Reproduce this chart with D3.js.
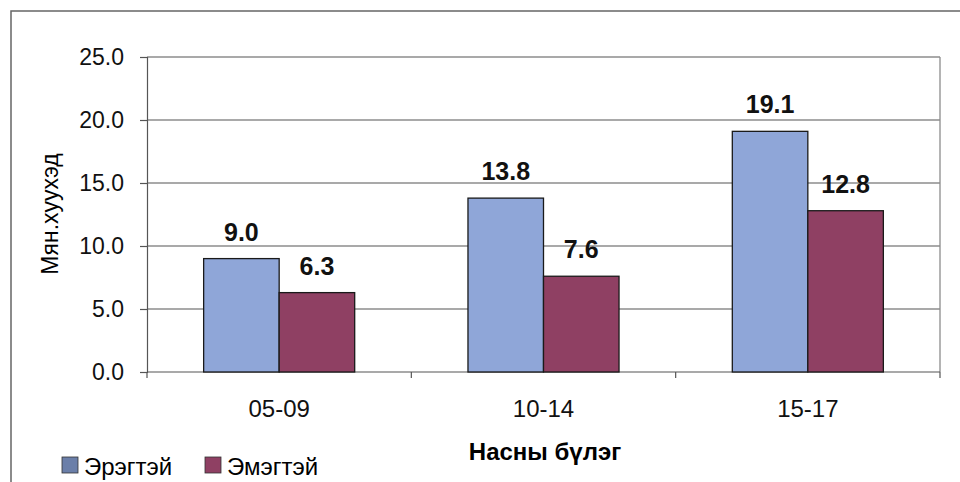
<!doctype html>
<html lang="mn">
<head>
  <meta charset="utf-8">
  <title>Насны бүлэг</title>
  <style>
    body { margin: 0; background: #fff; }
    svg { display: block; font-family: Arial, "Liberation Sans", sans-serif; }
    .grid line { stroke: #8c8c8c; stroke-width: 1.3; }
    .axis path, .axis line { stroke: #555; stroke-width: 1.2; }
    .axis text { font-size: 23px; fill: #111; }
    .xax text { font-size: 24px; }
    .val { font-size: 25px; font-weight: bold; fill: #111; }
    .bar { stroke: #1a1a1a; stroke-width: 1.3; }
  </style>
</head>
<body>
<script src="https://cdn.jsdelivr.net/npm/d3@7"></script>
<script>
(function() {

var categories = ["05-09", "10-14", "15-17"];
var seriesNames = ["Эрэгтэй", "Эмэгтэй"];
var boys = [9.0, 13.8, 19.1];
var girls = [6.3, 7.6, 12.8];
var yTicks = [0, 5, 10, 15, 20, 25];
var colors = ["#8fa6d8", "#8f4063"];

var width = 960, height = 482;
var left = 147, right = 940, top = 57, bottom = 372;

var svg = d3.select("body").append("svg")
    .attr("width", width)
    .attr("height", height);

// outer chart frame (cut by window on right and bottom)
svg.append("path")
    .attr("d", "M11,490 L11,11 L970,11")
    .attr("fill", "none")
    .attr("stroke", "#666")
    .attr("stroke-width", 1.5);

var y = d3.scaleLinear().domain([0, 25]).range([bottom, top]);
var x0 = d3.scaleBand().domain(categories).range([left, right]).paddingInner(0).paddingOuter(0);
// Excel gap width 150% -> bars take 2 of 3.5 units
var inner = d3.scaleBand().domain(seriesNames)
    .range([x0.bandwidth() * 0.75 / 3.5, x0.bandwidth() * 2.75 / 3.5]);

// gridlines
svg.append("g").attr("class", "grid")
  .selectAll("line").data(yTicks.slice(1)).enter().append("line")
    .attr("x1", left).attr("x2", right)
    .attr("y1", function(d) { return y(d); })
    .attr("y2", function(d) { return y(d); });

// right frame of plot area
svg.append("line")
    .attr("x1", right).attr("x2", right)
    .attr("y1", top).attr("y2", bottom)
    .attr("stroke", "#8c8c8c").attr("stroke-width", 1.3);

// y axis
svg.append("g").attr("class", "axis")
    .attr("transform", "translate(" + left + ",0)")
    .call(d3.axisLeft(y).tickValues(yTicks).tickFormat(d3.format(".1f")).tickSize(7).tickPadding(16));

// x axis
var xAxis = svg.append("g").attr("class", "axis xax")
    .attr("transform", "translate(0," + bottom + ")")
    .call(d3.axisBottom(x0).tickSize(0).tickPadding(28));
xAxis.select(".domain").attr("d", "M" + left + ",0H" + right);
xAxis.selectAll(".sep").data(d3.range(categories.length + 1)).enter().append("line")
    .attr("class", "sep")
    .attr("x1", function(i) { return left + i * x0.bandwidth(); })
    .attr("x2", function(i) { return left + i * x0.bandwidth(); })
    .attr("y1", 0).attr("y2", 6);

// bars
var rows = categories.map(function(c, i) {
  return { cat: c, vals: [boys[i], girls[i]] };
});

var groups = svg.selectAll(".cat").data(rows).enter().append("g")
    .attr("class", "cat")
    .attr("transform", function(d) { return "translate(" + x0(d.cat) + ",0)"; });

groups.selectAll("rect").data(function(d) {
    return d.vals.map(function(v, j) { return { name: seriesNames[j], v: v, j: j }; });
  }).enter().append("rect")
    .attr("class", "bar")
    .attr("x", function(d) { return inner(d.name); })
    .attr("width", inner.bandwidth())
    .attr("y", function(d) { return y(d.v); })
    .attr("height", function(d) { return bottom - y(d.v); })
    .attr("fill", function(d) { return colors[d.j]; });

groups.selectAll(".val").data(function(d) {
    return d.vals.map(function(v, j) { return { name: seriesNames[j], v: v }; });
  }).enter().append("text")
    .attr("class", "val")
    .attr("text-anchor", "middle")
    .attr("x", function(d) { return inner(d.name) + inner.bandwidth() / 2; })
    .attr("y", function(d) { return y(d.v) - 18; })
    .text(function(d) { return d.v.toFixed(1); });

// axis titles
svg.append("text")
    .attr("transform", "translate(58,214) rotate(-90)")
    .attr("text-anchor", "middle")
    .style("font-size", "23px")
    .text("Мян.хуухэд");

svg.append("text")
    .attr("x", 545).attr("y", 460)
    .attr("text-anchor", "middle")
    .style("font-size", "24px").style("font-weight", "bold")
    .text("Насны бүлэг");

// legend
var legendX = [62, 205];
var legend = svg.selectAll(".leg").data(seriesNames).enter().append("g")
    .attr("class", "leg")
    .attr("transform", function(d, i) { return "translate(" + legendX[i] + ",457)"; });
legend.append("rect")
    .attr("width", 16).attr("height", 16)
    .attr("fill", function(d, i) { return i === 0 ? "#6b7fa9" : "#8f4063"; })
    .attr("stroke", "#333").attr("stroke-width", 0.8);
legend.append("text")
    .attr("x", 22).attr("y", 18)
    .style("font-size", "24px")
    .text(function(d) { return d; });

})();
</script>
</body>
</html>
